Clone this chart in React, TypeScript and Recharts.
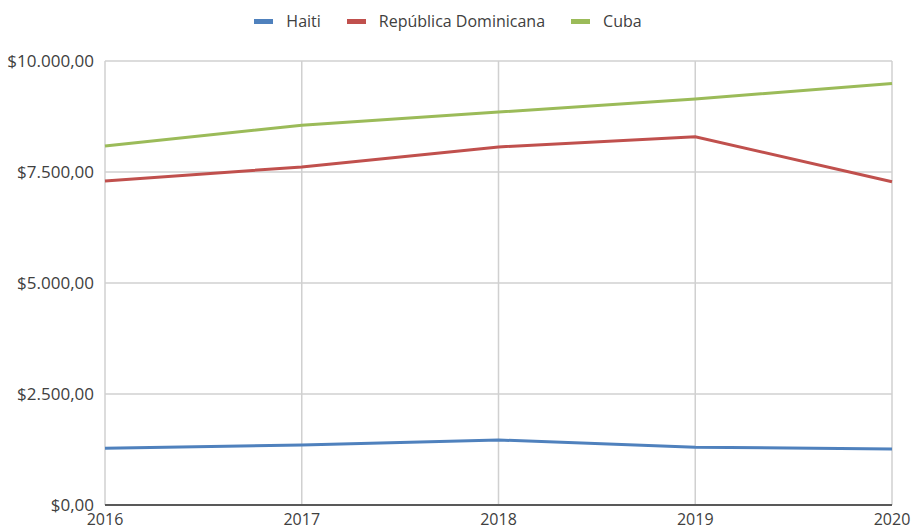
import { LineChart, Line, XAxis, YAxis, CartesianGrid, Legend } from "recharts";

const years = ["2016", "2017", "2018", "2019", "2020"];
const haiti = [1280, 1350, 1465, 1300, 1262];
const republicaDominicana = [7295, 7615, 8065, 8295, 7282];
const cuba = [8085, 8555, 8850, 9145, 9495];
const yTicks = [0, 2500, 5000, 7500, 10000];

const seriesInfo = [
  { key: "haiti", name: "Haiti", color: "#4f81bd" },
  { key: "rd", name: "República Dominicana", color: "#c0504d" },
  { key: "cuba", name: "Cuba", color: "#9bbb59" },
];

const data = years.map((year, i) => ({
  year,
  haiti: haiti[i],
  rd: republicaDominicana[i],
  cuba: cuba[i],
}));

const fontFamily = "'Open Sans', 'Noto Sans', sans-serif";

const formatMoney = (v: number) => {
  const [intPart, dec] = v.toFixed(2).split(".");
  return "$" + intPart.replace(/\B(?=(\d{3})+(?!\d))/g, ".") + "," + dec;
};

const CustomLegend = () => (
  <div
    style={{
      display: "flex",
      justifyContent: "center",
      alignItems: "center",
      fontFamily,
      fontSize: 16,
      color: "#404040",
      paddingLeft: 4,
    }}
  >
    {seriesInfo.map((s) => (
      <div key={s.key} style={{ display: "flex", alignItems: "center", margin: "0 13px" }}>
        <span
          style={{
            display: "inline-block",
            width: 19,
            height: 5,
            background: s.color,
            marginRight: 13,
          }}
        />
        <span>{s.name}</span>
      </div>
    ))}
  </div>
);

const App = () => {
  return (
    <div style={{ position: "absolute", top: 0, left: 0, background: "#fff" }}>
      <LineChart
        width={912}
        height={532}
        data={data}
        margin={{ top: 25, right: 20, left: 0, bottom: 0 }}
      >
        <Legend
          verticalAlign="top"
          align="center"
          height={36}
          wrapperStyle={{ top: 10 }}
          content={<CustomLegend />}
        />
        <CartesianGrid stroke="#d0d0d0" strokeWidth={1.5} />
        <XAxis
          dataKey="year"
          interval={0}
          height={27}
          tickSize={0}
          tickMargin={9}
          axisLine={{ stroke: "#595959", strokeWidth: 2 }}
          tickLine={false}
          tick={{ fill: "#404040", fontSize: 16, fontFamily }}
        />
        <YAxis
          width={105}
          domain={[0, 10000]}
          ticks={yTicks}
          tickFormatter={formatMoney}
          tickSize={0}
          tickMargin={11}
          axisLine={false}
          tickLine={false}
          tick={{ fill: "#404040", fontSize: 17, fontFamily }}
        />
        {seriesInfo.map((s) => (
          <Line
            key={s.key}
            type="linear"
            dataKey={s.key}
            name={s.name}
            stroke={s.color}
            strokeWidth={3}
            dot={false}
            activeDot={false}
            isAnimationActive={false}
          />
        ))}
      </LineChart>
    </div>
  );
};

export default App;
